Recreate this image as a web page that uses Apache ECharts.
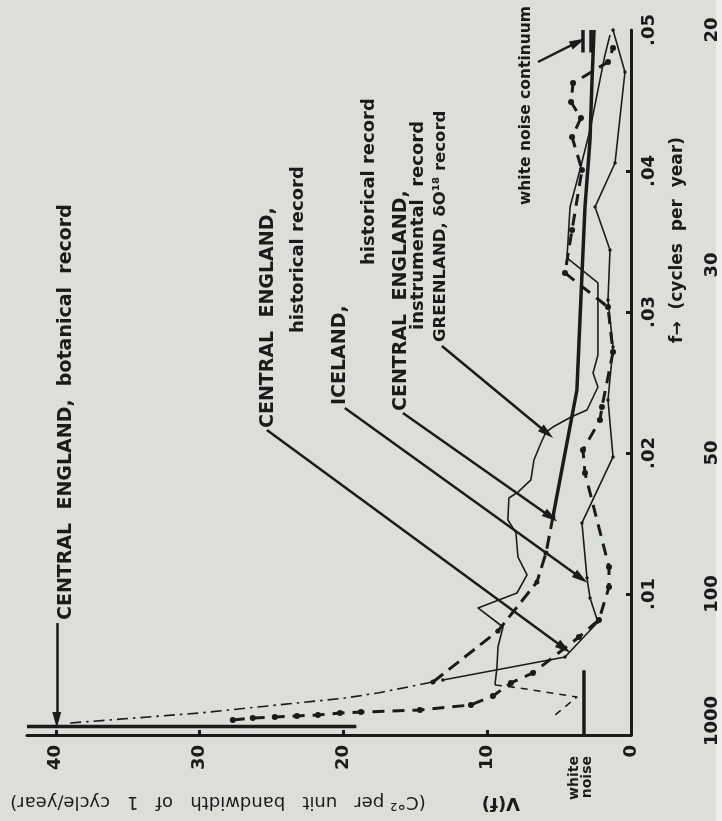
<!DOCTYPE html>
<html><head><meta charset="utf-8">
<script src="https://cdn.jsdelivr.net/npm/echarts@6/dist/echarts.min.js"></script>
<style>html,body{margin:0;padding:0;background:#dcdeda}#c{width:722px;height:821px}</style>
</head><body><div id="c"></div>
<script>
// ---- data: [V(f), f] pairs (V in C°² per unit bandwidth, f in cycles/year) ----
const vTickLabels = [0, 10, 20, 30, 40];
const vTickMarks = [10, 20, 30, 40];
const fTickLabels = [0.01, 0.02, 0.03, 0.04, 0.05];
const fTickMarks = [0.01, 0.02, 0.03, 0.04];
const periodLabels = [1000, 100, 50, 30, 20];

const botanicalSpike = [[19.1, 0.0006], [42, 0.0006]];
const botanicalDashDot = [[39.0, 0.00085], [30.0, 0.00156], [19.9, 0.00262], [17.5, 0.0030], [13.8, 0.00376]];
const historicalHeavy = [[27.69,0.00106],[26.30,0.00121],[24.77,0.00128],[23.23,0.00135],[21.77,0.00142],[20.24,0.00156],[18.78,0.00163],[14.68,0.00177],[11.13,0.00213],[9.6,0.00277],[8.35,0.00369],[6.82,0.0044],[3.62,0.00695],[2.23,0.00816],[1.53,0.0105],[1.53,0.01191],[3.2,0.01858],[3.34,0.02021],[2.16,0.02234],[2.02,0.02326],[1.25,0.02716],[1.6,0.03035],[4.59,0.03277],[4.1,0.03582],[3.41,0.04007],[4.1,0.04241],[3.48,0.04376],[4.17,0.04489],[4.03,0.04624],[1.6,0.04773],[1.25,0.04872]];
const instrumentalDashed = [[13.77,0.00376],[9.25,0.00738],[6.54,0.01085],[5.91,0.01291],[5.43,0.01546]];
const instrumentalSolid = [[5.43,0.01546],[3.76,0.02447],[3.55,0.02943],[3.2,0.03745],[2.85,0.0422],[2.71,0.04645],[2.57,0.05]];
const icelandThin = [[13.08,0.0039],[4.59,0.00553],[2.3,0.00801],[2.85,0.00972],[3.06,0.01113],[3.41,0.01504],[1.25,0.01972],[1.6,0.02376],[1.25,0.02752],[1.6,0.03085],[1.46,0.0344],[2.5,0.03745],[1.11,0.04057],[0.42,0.04702],[1.25,0.05]];
const greenlandThin = [[9.46,0.00355],[9.32,0.00482],[9.25,0.00624],[8.9,0.00766],[10.64,0.00901],[7.93,0.01007],[7.23,0.01135],[7.86,0.01262],[8.0,0.01433],[8.56,0.01525],[8.49,0.01681],[7.86,0.01723],[6.96,0.01809],[6.75,0.0195],[6.26,0.02071],[5.91,0.02149],[5.43,0.02184],[4.17,0.02255],[3.06,0.02305],[2.3,0.02468],[2.64,0.02567],[2.3,0.02695],[2.3,0.03206],[4.45,0.03383],[4.24,0.03745],[3.55,0.04007],[2.85,0.04291],[2.3,0.04574],[1.81,0.04823],[1.46,0.04965]];
const greenlandDashed = [[9.46,0.00355],[7.72,0.00333],[3.76,0.0027],[5.43,0.00128]];
const whiteNoiseBar = [[3.27, 0], [3.27, 0.0046]];
const continuumBarA = [[3.34, 0.0484], [3.34, 0.05]];
const continuumBarB = [[2.78, 0.0484], [2.78, 0.05]];
const leaders = [
  [[39.93, 0.00794], [39.93, 0.00106]],
  [[25.32, 0.02163], [4.66, 0.00617]],
  [[19.9, 0.02319], [3.48, 0.01113]],
  [[15.86, 0.02284], [5.57, 0.01546]],
  [[13.15, 0.02759], [5.84, 0.02142]],
  [[6.47, 0.04773], [3.69, 0.04915]]
];

const INK = '#1b1b1b';
const FONT = '"DejaVu Sans", sans-serif';

function ln(name, data, width, type, extra) {
  return Object.assign({
    name, type: 'line', data, showSymbol: false, symbol: 'none', silent: true,
    lineStyle: { color: INK, width, type: type || 'solid', cap: 'butt', join: 'round' },
    itemStyle: { color: INK }, animation: false, z: 3
  }, extra || {});
}

function vtext(x, y, text, size, weight, align) {
  return { type: 'text', x, y, rotation: Math.PI / 2, silent: true,
    style: { text, fill: INK, font: (weight || 'bold') + ' ' + size + 'px ' + FONT,
      align: align || 'left', verticalAlign: 'middle', textAlign: align || 'left', textVerticalAlign: 'middle' } };
}

const chart = echarts.init(document.getElementById('c'), null, { renderer: 'canvas' });
chart.setOption({
  backgroundColor: '#dcdeda',
  animation: false,
  grid: { left: 27, right: 91, top: 30, bottom: 86, containLabel: false },
  xAxis: {
    type: 'value', min: 0, max: 42, inverse: true, position: 'bottom',
    splitLine: { show: false },
    axisLine: { lineStyle: { color: INK, width: 3 } },
    axisTick: { inside: true, length: 5, lineStyle: { color: INK, width: 3 }, customValues: vTickMarks },
    axisLabel: { customValues: vTickLabels, rotate: 90, margin: 10, color: INK,
      fontFamily: FONT, fontSize: 18, fontWeight: 'bold' }
  },
  yAxis: [{
    type: 'value', min: 0, max: 0.05, position: 'right',
    splitLine: { show: false },
    axisLine: { lineStyle: { color: INK, width: 3 } },
    axisTick: { inside: true, length: 5, lineStyle: { color: INK, width: 3 }, customValues: fTickMarks },
    axisLabel: { customValues: fTickLabels, rotate: 90, margin: 9, color: INK,
      fontFamily: FONT, fontSize: 18, fontWeight: 'bold',
      formatter: v => String(+v.toFixed(2)).replace(/^0\./, '.') }
  }, {
    type: 'value', min: 0, max: 0.05, position: 'right',
    splitLine: { show: false }, axisLine: { show: false }, axisTick: { show: false },
    axisLabel: { customValues: periodLabels.map(p => 1 / p), rotate: 90, margin: 72, color: INK,
      fontFamily: FONT, fontSize: 18, fontWeight: 'bold',
      formatter: v => String(Math.round(1 / v)) }
  }],
  series: [
    ln('CENTRAL ENGLAND, botanical record', botanicalSpike, 3.5, 'solid', {
      markLine: {
        silent: true, animation: false, symbol: ['none', 'triangle'], symbolSize: [9, 16],
        label: { show: false }, emphasis: { disabled: true },
        lineStyle: { color: INK, width: 2.5, type: 'solid' },
        data: leaders.map(l => [{ coord: l[0] }, { coord: l[1] }])
      }
    }),
    ln('botanical (dash-dot)', botanicalDashDot, 1.6, [11, 5, 2.5, 5]),
    ln('CENTRAL ENGLAND, historical record', historicalHeavy, 3, [12, 8], {
      showSymbol: true, symbol: 'circle', symbolSize: 6 }),
    ln('CENTRAL ENGLAND, instrumental (dashed)', instrumentalDashed, 3, [13, 7], {
      showSymbol: true, symbol: 'circle', symbolSize: 5 }),
    ln('CENTRAL ENGLAND, instrumental record', instrumentalSolid, 3.5),
    ln('ICELAND, historical record', icelandThin, 1.6, 'solid', {
      showSymbol: true, symbol: 'circle', symbolSize: 3.5 }),
    ln('GREENLAND, dO18 record', greenlandThin, 1.6),
    ln('GREENLAND (dashed)', greenlandDashed, 1.6, [7, 6]),
    ln('white noise', whiteNoiseBar, 3.5),
    ln('white noise continuum A', continuumBarA, 3.5),
    ln('white noise continuum B', continuumBarB, 3.5)
  ],
  graphic: [
    { type: 'rect', shape: { x: 716, y: 0, width: 6, height: 821 }, style: { fill: '#eceeec' }, silent: true },
    vtext(66, 620, 'CENTRAL  ENGLAND,  botanical  record', 19),
    vtext(268, 428, 'CENTRAL  ENGLAND,', 19),
    vtext(298, 333, 'historical record', 18),
    vtext(340, 405, 'ICELAND,', 19),
    vtext(369, 265, 'historical record', 18),
    vtext(401, 411, 'CENTRAL  ENGLAND,', 19),
    vtext(418, 330, 'instrumental  record', 18),
    vtext(441, 342, 'GREENLAND, δO¹⁸ record', 16.5),
    vtext(526, 205, 'white noise continuum', 15.5),
    vtext(678, 343, 'f→  (cycles  per  year)', 17),
    { type: 'text', x: 581, y: 756, rotation: Math.PI / 2, silent: true,
      style: { text: 'white\nnoise', fill: INK, font: 'bold 14px ' + FONT, lineHeight: 13,
        align: 'right', verticalAlign: 'middle', textAlign: 'right', textVerticalAlign: 'middle' } },
    { type: 'text', x: 501, y: 803, rotation: Math.PI, silent: true,
      style: { text: 'V(f)', fill: INK, font: 'bold 18px ' + FONT,
        align: 'center', verticalAlign: 'middle', textAlign: 'center', textVerticalAlign: 'middle' } },
    { type: 'text', x: 218, y: 802, rotation: Math.PI, silent: true,
      style: { text: '(C°² per   unit   bandwidth   of   1   cycle/year)', fill: INK, font: '18px ' + FONT,
        align: 'center', verticalAlign: 'middle', textAlign: 'center', textVerticalAlign: 'middle' } }
  ]
});
</script></body></html>
